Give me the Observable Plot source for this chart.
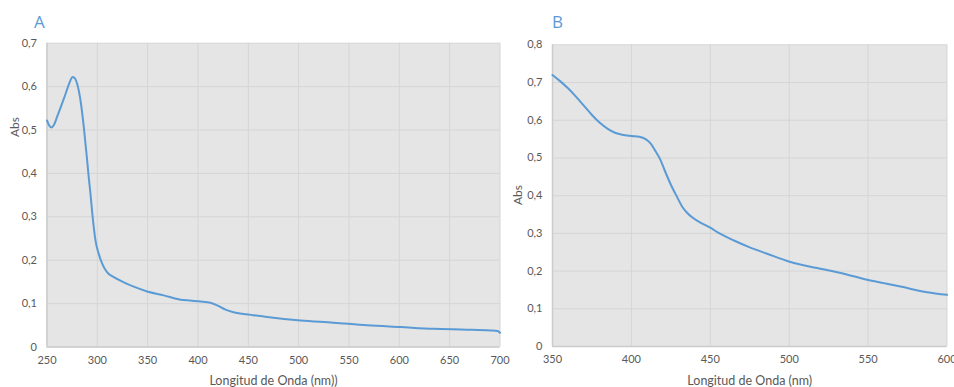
<!DOCTYPE html>
<html>
<head>
<meta charset="utf-8">
<script src="https://cdn.jsdelivr.net/npm/d3@7"></script>
<script src="https://cdn.jsdelivr.net/npm/@observablehq/plot@0.6"></script>
<style>
  html, body { margin: 0; padding: 0; background: #fff; }
  #wrap { position: relative; width: 954px; height: 387px; overflow: hidden; font-family: Lato, "Open Sans", sans-serif; }
  .panel { position: absolute; top: 0; }
  .letter { position: absolute; color: #5b9bd5; font-size: 17px; font-family: "Open Sans", Lato, sans-serif; line-height: 1; }
  .ylab { position: absolute; color: #595959; font-size: 12px; transform: translate(-50%, -50%) rotate(-90deg); white-space: nowrap; }
</style>
</head>
<body>
<div id="wrap">
  <div id="pa" class="panel" style="left:0px"></div>
  <div id="pb" class="panel" style="left:512px"></div>
  <div class="letter" style="left:34px; top:13px">A</div>
  <div class="letter" style="left:552px; top:13px">B</div>
  <div class="ylab" style="left:14px; top:127px">Abs</div>
  <div class="ylab" style="left:517px; top:195px">Abs</div>
</div>
<script>
// Panel A data
const waveA = [250, 252, 254.5, 257, 260, 264, 268.4, 272, 275.6, 278, 280, 283.3, 286.6, 289.9, 291.5, 293.2, 294.9, 296.5, 298.2, 301.5, 304.8, 309.8, 316.4, 326.3, 336.2, 349.5, 366, 382.6, 392, 402.5, 412.4, 419.1, 427.3, 435.3, 452.3, 468.7, 501.8, 534.6, 568.1, 601.2, 634, 667.4, 690.5, 697.5, 700];
const absA = [0.522, 0.511, 0.506, 0.512, 0.530, 0.555, 0.583, 0.607, 0.622, 0.618, 0.606, 0.568, 0.506, 0.430, 0.390, 0.353, 0.310, 0.275, 0.245, 0.214, 0.192, 0.172, 0.161, 0.149, 0.139, 0.128, 0.119, 0.109, 0.107, 0.105, 0.102, 0.096, 0.086, 0.080, 0.074, 0.069, 0.061, 0.056, 0.050, 0.046, 0.042, 0.040, 0.038, 0.037, 0.033];
const xTicksA = [250, 300, 350, 400, 450, 500, 550, 600, 650, 700];
const yTicksA = [0, 0.1, 0.2, 0.3, 0.4, 0.5, 0.6, 0.7];

// Panel B data
const waveB = [350, 355, 360, 365, 370, 375, 380, 385, 390, 395, 400, 405, 409, 412, 415, 418.4, 421, 424.8, 429, 432, 435.4, 440, 444, 450, 455, 465, 475, 486, 500.8, 517.7, 534.6, 549.4, 560, 570.5, 587.5, 600];
const absB = [0.720, 0.703, 0.684, 0.662, 0.638, 0.614, 0.593, 0.577, 0.566, 0.561, 0.558, 0.556, 0.550, 0.539, 0.520, 0.495, 0.468, 0.431, 0.396, 0.372, 0.354, 0.338, 0.328, 0.315, 0.302, 0.281, 0.263, 0.246, 0.224, 0.208, 0.193, 0.177, 0.168, 0.159, 0.144, 0.137];
const xTicksB = [350, 400, 450, 500, 550, 600];
const yTicksB = [0, 0.1, 0.2, 0.3, 0.4, 0.5, 0.6, 0.7, 0.8];

const xTitleA = "Longitud de Onda (nm))";
const xTitleB = "Longitud de Onda (nm)";

const fmt = d => d === 0 ? "0" : d.toFixed(1).replace(".", ",");
const LINE = "#5b9bd5", BG = "#e5e5e5", GRID = "#d5d5d5", TXT = "#595959";

function panel({wave, abs, xTicks, yTicks, xDomain, yDomain, width, margins, xTitle}) {
  const data = wave.map((w, i) => ({w, a: abs[i]}));
  return Plot.plot({
    width, height: 387,
    marginLeft: margins[0], marginRight: margins[1], marginTop: margins[2], marginBottom: margins[3],
    style: {fontFamily: "Lato, 'Open Sans', sans-serif", fontSize: "11px", color: TXT, background: "transparent"},
    x: {domain: xDomain},
    y: {domain: yDomain},
    marks: [
      Plot.frame({fill: BG, stroke: null}),
      Plot.gridX(xTicks, {stroke: GRID, strokeOpacity: 1, strokeWidth: 1}),
      Plot.gridY(yTicks, {stroke: GRID, strokeOpacity: 1, strokeWidth: 1}),
      Plot.ruleX([xDomain[0]], {stroke: "#cccccc", strokeWidth: 1.5}),
      Plot.ruleY([0], {stroke: "#cccccc", strokeWidth: 1.5}),
      Plot.axisY(yTicks, {tickSize: 0, tickPadding: 10, tickFormat: fmt, label: null, fill: TXT, fontSize: 11}),
      Plot.axisX(xTicks, {tickSize: 0, tickPadding: 9, tickFormat: d => String(d), fill: TXT, fontSize: 11,
        label: null}),
      Plot.text([xTitle], {frameAnchor: "bottom", dy: 34, text: d => d, fill: TXT, fontSize: 12.5, lineAnchor: "middle"}),
      Plot.line(data, {x: "w", y: "a", stroke: LINE, strokeWidth: 2, curve: "monotone-x"})
    ]
  });
}

const chartA = panel({wave: waveA, abs: absA, xTicks: xTicksA, yTicks: yTicksA,
  xDomain: [250, 700], yDomain: [0, 0.7], width: 512, margins: [46.5, 12.5, 42.7, 40.5], xTitle: xTitleA});
const chartB = panel({wave: waveB, abs: absB, xTicks: xTicksB, yTicks: yTicksB,
  xDomain: [350, 600], yDomain: [0, 0.8], width: 442, margins: [40, 7.5, 44.3, 41], xTitle: xTitleB});
document.getElementById("pa").appendChild(chartA);
document.getElementById("pb").appendChild(chartB);
</script>
</body>
</html>
